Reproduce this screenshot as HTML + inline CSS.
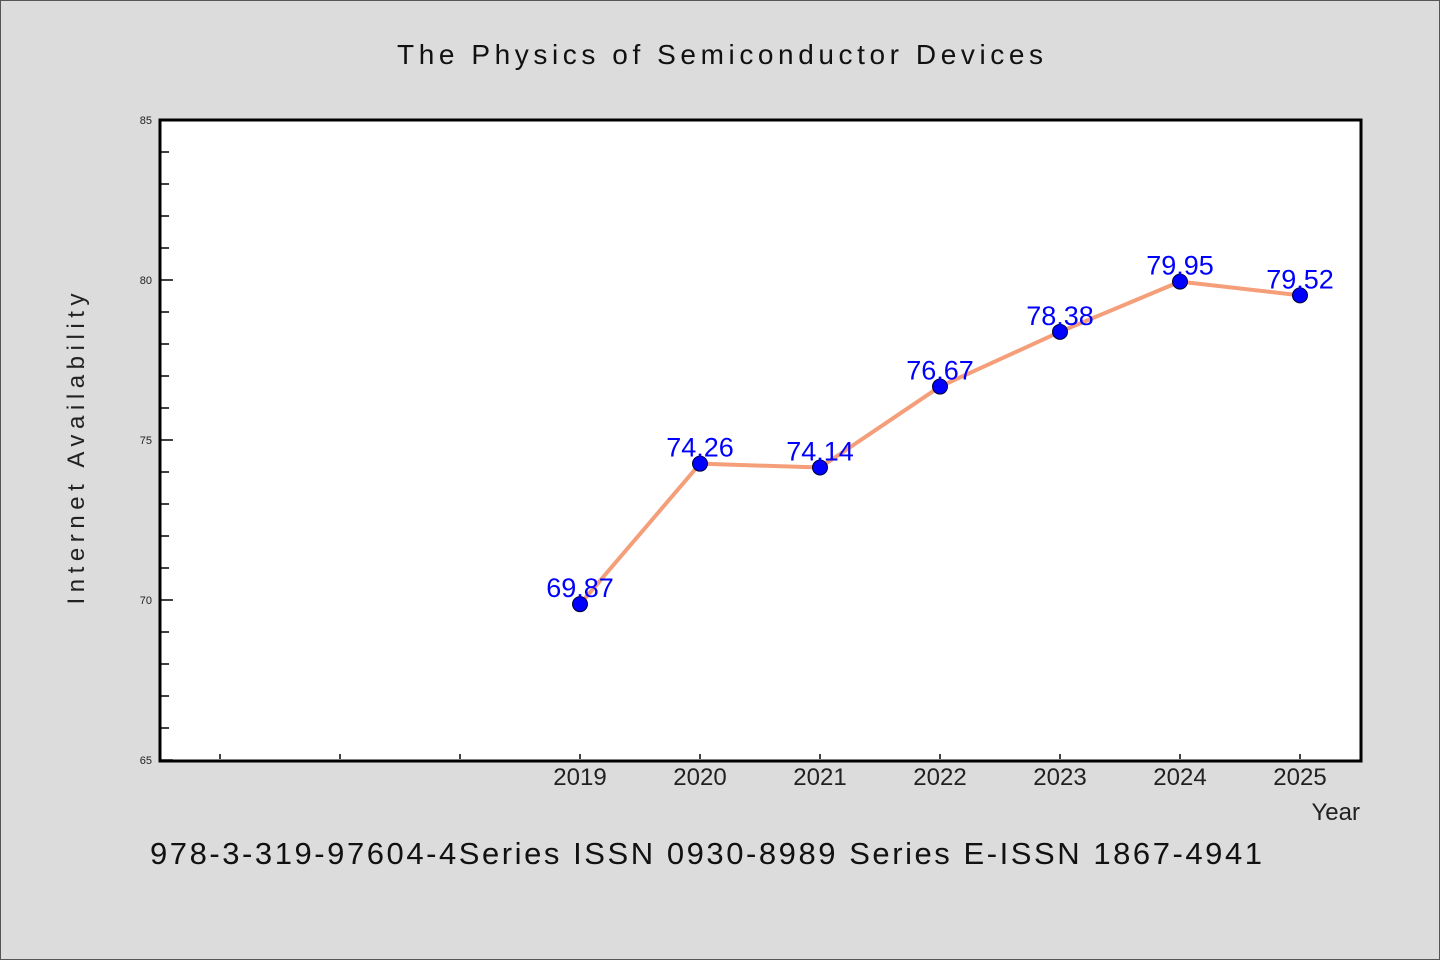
<!DOCTYPE html>
<html><head><meta charset="utf-8"><style>
html,body{margin:0;padding:0;background:#dcdcdc;}
svg{display:block;font-family:"WenQuanYi Zen Hei","Liberation Sans",sans-serif;}
</style></head><body>
<svg id="chart" width="1440" height="960" viewBox="0 0 1440 960">
<rect x="0.5" y="0.5" width="1439" height="959" fill="#dcdcdc" stroke="#555"/>
<text x="720" y="64" text-anchor="middle" font-size="28" fill="#111" textLength="646">The Physics of Semiconductor Devices</text>
<rect x="160" y="120" width="1201" height="641" fill="#fff" stroke="#000" stroke-width="3"/>
<g id="yaxis"></g>
<g id="xaxis"></g>
<g id="series"></g>
<text transform="translate(84,449) rotate(-90)" text-anchor="middle" font-size="24" fill="#222" textLength="311">Internet Availability</text>
<text x="1360" y="820" text-anchor="end" font-size="24" fill="#222">Year</text>
<text x="150" y="864" font-size="31" fill="#111" textLength="1112">978-3-319-97604-4Series ISSN 0930-8989 Series E-ISSN 1867-4941</text>
</svg>
<script>
const categories = ["", "", "", "2019", "2020", "2021", "2022", "2023", "2024", "2025"];
const values = [null, null, null, 69.87, 74.26, 74.14, 76.67, 78.38, 79.95, 79.52];
const labels = ["", "", "", "69.87", "74.26", "74.14", "76.67", "78.38", "79.95", "79.52"];
const yTicks = [65, 70, 75, 80, 85];

const NS = "http://www.w3.org/2000/svg";
const yMin = 65, yMax = 85, plotTop = 120, plotBottom = 760;
function yScale(v){ return plotBottom - (v - yMin) / (yMax - yMin) * (plotBottom - plotTop); }
function xScale(i){ return 220 + i * 120; }
function mk(tag, attrs, parent){ const e = document.createElementNS(NS, tag); for (const k in attrs) e.setAttribute(k, attrs[k]); parent.appendChild(e); return e; }

const ya = document.getElementById('yaxis');
for (let v = yMin; v <= yMax; v++) {
  const major = yTicks.includes(v);
  const t = mk('line', {x1:161, x2: major ? 173 : 169, y1: yScale(v), y2: yScale(v), stroke:'#000', 'stroke-width':1.5}, ya);
  
  
}
yTicks.forEach(v => {
  const t = mk('text', {x:152, y: yScale(v) + 4, 'text-anchor':'end', 'font-size':11, fill:'#222'}, ya);
  t.textContent = v;
  
  
});

const xa = document.getElementById('xaxis');
categories.forEach((c, i) => {
  const t = mk('line', {x1: xScale(i), x2: xScale(i), y1: 759, y2: 754, stroke:'#000', 'stroke-width':1.5}, xa);
  
  
  if (c) {
    const l = mk('text', {x: xScale(i), y: 785, 'text-anchor':'middle', 'font-size':24, fill:'#222'}, xa);
    l.textContent = c;
    
    
  }
});

const s = document.getElementById('series');
const pts = [];
values.forEach((v, i) => { if (v !== null) pts.push([xScale(i), yScale(v), i]); });
const pl = mk('polyline', {points: pts.map(p => p[0] + ',' + p[1]).join(' '), fill:'none', stroke:'#f59e7a', 'stroke-width':4, 'stroke-linejoin':'round'}, s);


pts.forEach(p => {
  const c = mk('circle', {cx:p[0], cy:p[1], r:7.5, fill:'#0000ff', stroke:'#000033', 'stroke-width':1}, s);
  
  
  const t = mk('text', {x:p[0], y:p[1] - 7, 'text-anchor':'middle', 'font-size':27, fill:'#0000ff'}, s);
  t.textContent = labels[p[2]];
  
  
});
</script>
</body></html>
